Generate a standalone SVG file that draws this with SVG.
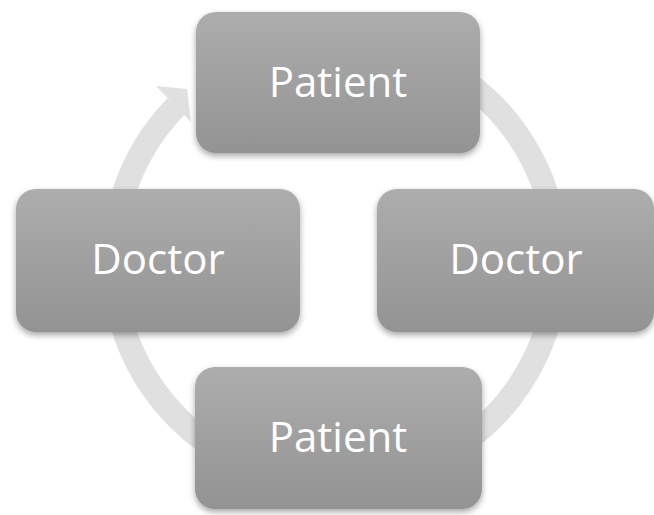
<svg xmlns="http://www.w3.org/2000/svg" width="654" height="515" viewBox="0 0 654 515">
<defs>
<linearGradient id="g" x1="0" y1="0" x2="0" y2="1">
<stop offset="0" stop-color="#adadad"/>
<stop offset="1" stop-color="#939393"/>
</linearGradient>
<filter id="sh" x="-10%" y="-10%" width="120%" height="130%">
<feDropShadow dx="0" dy="3" stdDeviation="3" flood-color="#000" flood-opacity="0.35"/>
</filter>
<style>
.box{fill:url(#g);filter:url(#sh);}
.lbl{font-family:"Open Sans","Noto Sans",sans-serif;font-size:42px;fill:#ffffff;text-anchor:middle;}
.ring{fill:none;stroke:#e0e0e0;stroke-width:24;}
</style>
</defs>
<g id="connectors">
<path class="ring" d="M 244.2 58.8 A 222 222 0 1 1 176 106.5"/>
<polygon points="156,86 187,89 191,122" fill="#e0e0e0"/>
</g>
<g id="node-top">
<rect class="box" x="196" y="12" width="284" height="141" rx="20"/>
<text class="lbl" x="338" y="97">Patient</text>
</g>
<g id="node-right">
<rect class="box" x="377" y="189" width="277" height="143" rx="20"/>
<text class="lbl" x="516" y="274">Doctor</text>
</g>
<g id="node-left">
<rect class="box" x="16" y="189" width="284" height="143" rx="20"/>
<text class="lbl" x="158" y="274">Doctor</text>
</g>
<g id="node-bottom">
<rect class="box" x="195" y="367" width="287" height="142" rx="20"/>
<text class="lbl" x="338" y="452">Patient</text>
</g>
</svg>
